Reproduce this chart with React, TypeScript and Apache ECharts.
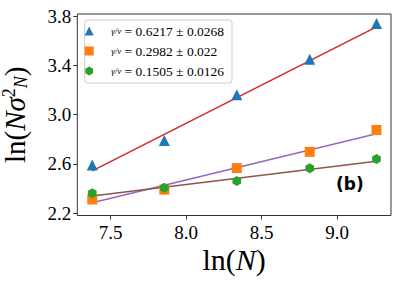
import React, { useEffect, useRef } from "react";
import * as echarts from "echarts";

// ---- data ----
const lnN = [7.378, 7.855, 8.335, 8.818, 9.26];
const triValues = [2.59, 2.79, 3.16, 3.45, 3.74];
const sqValues = [2.31, 2.39, 2.565, 2.697, 2.875];
const hexValues = [2.36, 2.405, 2.46, 2.563, 2.638];
const slopes = [0.6217, 0.2982, 0.1505];
const slopeErrs = ["0.0268", "0.022", "0.0126"];
const fitStartValues = [2.543, 2.283, 2.338]; // fit value at first lnN
const xTicks = [7.5, 8.0, 8.5, 9.0];
const yTicks = [2.2, 2.6, 3.0, 3.4, 3.8];

const markerColors = ["#1f77b4", "#ff7f0e", "#2ca02c"];
const fitColors = ["#d62728", "#9467bd", "#8c564b"];

const TRI = "path://M0,-10 L10,10 L-10,10 Z";
const SQ = "path://M0,0 L10,0 L10,10 L0,10 Z";
const HEX = "path://M0,-10 L8.66,-5 L8.66,5 L0,10 L-8.66,5 L-8.66,-5 Z";
const symbols = [TRI, SQ, HEX];
const symbolSizes = [11, 10, 10];
const seriesValues = [triValues, sqValues, hexValues];

const SERIF = "'Liberation Serif', 'DejaVu Serif', serif";

export default function App() {
  const ref = useRef<HTMLDivElement>(null);
  useEffect(() => {
    if (!ref.current) return;
    const chart = echarts.init(ref.current, undefined, { renderer: "svg" });
    const names = slopes.map((s, i) => `= ${s} ± ${slopeErrs[i]}`);
    const x0 = lnN[0];
    const x1 = lnN[lnN.length - 1];
    const fitSeries = slopes.map((s, i) => ({
      type: "line",
      name: "fit" + i,
      data: [
        [x0, fitStartValues[i]],
        [x1, fitStartValues[i] + s * (x1 - x0)],
      ],
      symbol: "none",
      lineStyle: { color: fitColors[i], width: 1.5 },
      z: 2,
      silent: true,
    }));
    const scatterSeries = seriesValues.map((vals, i) => ({
      type: "scatter",
      name: names[i],
      data: vals.map((v, j) => [lnN[j], v]),
      symbol: symbols[i],
      symbolSize: symbolSizes[i],
      symbolKeepAspect: true,
      itemStyle: { color: markerColors[i], opacity: 1 },
      z: 3,
    }));
    chart.setOption({
      animation: false,
      backgroundColor: "#fff",
      grid: {
        left: 77.3,
        right: 8,
        top: 14,
        bottom: 69.5,
        show: true,
        borderColor: "#333",
        borderWidth: 1,
        containLabel: false,
        outerBoundsMode: "none",
      },
      legend: {
        orient: "vertical",
        left: 84.7,
        top: 20,
        data: names.map((n, i) => ({ name: n, icon: symbols[i] })),
        itemWidth: 34,
        itemHeight: 9,
        itemGap: 6,
        padding: [4, 8, 5, 0],
        borderColor: "#cccccc",
        borderWidth: 1,
        borderRadius: 3,
        backgroundColor: "rgba(255,255,255,0.8)",
        selectedMode: false,
        formatter: (n: string) => `{f|γ/ν}{t| ${n}}`,
        textStyle: {
          fontFamily: SERIF,
          fontSize: 13.5,
          lineHeight: 14,
          color: "#000",
          rich: {
            f: { fontFamily: SERIF, fontSize: 9, fontStyle: "italic", color: "#000", lineHeight: 14 },
            t: { fontFamily: SERIF, fontSize: 13.5, color: "#000", lineHeight: 14 },
          },
        },
      },
      xAxis: {
        type: "value",
        min: 7.279,
        max: 9.356,
        name: "ln({i|N})",
        nameLocation: "middle",
        nameGap: 29,
        nameMoveOverlap: false,
        nameTextStyle: {
          fontFamily: SERIF,
          fontSize: 30,
          color: "#000",
          rich: {
            i: { fontFamily: SERIF, fontSize: 30, fontStyle: "italic", color: "#000" },
          },
        },
        axisLine: { show: false },
        axisTick: { show: true, inside: false, length: 4, customValues: xTicks, lineStyle: { color: "#333" } },
        axisLabel: {
          customValues: xTicks,
          margin: 7,
          fontFamily: SERIF,
          fontSize: 19,
          color: "#000",
          formatter: (v: number) => v.toFixed(1),
        },
        splitLine: { show: false },
      },
      yAxis: {
        type: "value",
        min: 2.18,
        max: 3.817,
        name: "ln({i|Nσ}{sup|2}{sub|N})",
        nameLocation: "middle",
        nameGap: 47,
        nameMoveOverlap: false,
        nameTextStyle: {
          fontFamily: SERIF,
          fontSize: 29,
          color: "#000",
          lineHeight: 30,
          rich: {
            i: { fontFamily: SERIF, fontSize: 29, fontStyle: "italic", color: "#000", lineHeight: 30 },
            sup: { fontFamily: SERIF, fontSize: 18, color: "#000", verticalAlign: "top", lineHeight: 18 },
            sub: { fontFamily: SERIF, fontSize: 18, fontStyle: "italic", color: "#000", verticalAlign: "bottom", lineHeight: 18 },
          },
        },
        axisLine: { show: false },
        axisTick: { show: true, inside: false, length: 4, customValues: yTicks, lineStyle: { color: "#333" } },
        axisLabel: {
          customValues: yTicks,
          margin: 6,
          fontFamily: SERIF,
          fontSize: 19,
          color: "#000",
          formatter: (v: number) => v.toFixed(1),
        },
        splitLine: { show: false },
      },
      graphic: [
        {
          type: "text",
          left: 336,
          top: 175,
          style: {
            text: "(b)",
            font: "bold 17px 'DejaVu Sans', sans-serif",
            fill: "#000",
          },
        },
      ],
      series: [...fitSeries, ...scatterSeries],
    });
    return () => chart.dispose();
  }, []);
  return <div ref={ref} style={{ width: 399, height: 285, position: "absolute", left: 0, top: 0 }} />;
}
